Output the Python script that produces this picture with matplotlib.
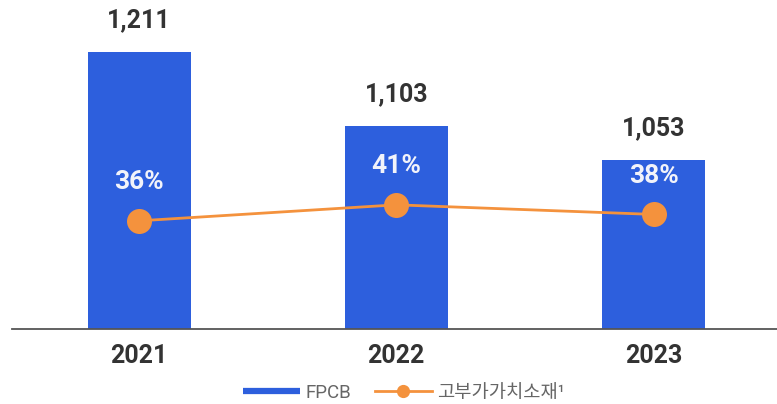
import numpy as np
import matplotlib.pyplot as plt
from matplotlib.lines import Line2D

plt.rcParams['font.family'] = ['Roboto', 'Noto Sans CJK KR', 'DejaVu Sans']

years = ['2021', '2022', '2023']
fpcb_sales = [1211, 1103, 1053]
high_value_share = [36, 41, 38]

bar_color = '#2D5FDD'
line_color = '#F4923D'
text_color = '#333333'

fig = plt.figure(figsize=(7.77, 4.04), dpi=100)
ax = fig.add_axes([12 / 777, 75 / 404, 1 - 12 / 777, 329 / 404])
x = np.arange(len(years))

bars = ax.bar(x, fpcb_sales, width=0.4, color=bar_color, zorder=2)
ax.set_ylim(807, 1287)
ax.set_xlim(-0.494, 2.48)

for rect, v in zip(bars, fpcb_sales):
    ax.annotate(f'{v:,}', (rect.get_x() + rect.get_width() / 2, v),
                xytext=(0, 23), textcoords='offset points',
                ha='center', va='center', fontsize=18, fontweight='bold',
                color=text_color)

for s in ['top', 'left', 'right']:
    ax.spines[s].set_visible(False)
ax.spines['bottom'].set_color('#555555')
ax.spines['bottom'].set_linewidth(1.3)
ax.set_yticks([])
ax.set_xticks(x)
ax.set_xticklabels(years, fontsize=18, fontweight='bold', color=text_color)
ax.tick_params(axis='x', length=0, pad=11)

# share of high value-added materials on the right scale
ax2 = ax.twinx()
ax2.plot(x, high_value_share, color=line_color, lw=2, marker='o',
         markersize=18, markeredgewidth=0, zorder=3)
ax2.set_ylim(2.2, 105)
ax2.set_yticks([])
for s in ['top', 'left', 'right', 'bottom']:
    ax2.spines[s].set_visible(False)

for xi, p in zip(x, high_value_share):
    ax2.annotate(f'{p}%', (xi, p), xytext=(0, 28), textcoords='offset points',
                 ha='center', va='center', fontsize=19, fontweight='bold',
                 color='#F2F3FA')

handles = [
    Line2D([], [], color=bar_color, lw=4.5, solid_capstyle='butt'),
    Line2D([], [], color=line_color, lw=2, marker='o', markersize=9.5,
           markeredgewidth=0),
]
fig.legend(handles, ['FPCB', '고부가가치소재¹'], loc='center',
           bbox_to_anchor=(404 / 777, 1 - 393 / 404), ncol=2, frameon=False,
           fontsize=13.5, labelcolor='#666666', handlelength=3.0,
           handletextpad=0.3, columnspacing=1.3)

fig.savefig('out.png', dpi=100)
